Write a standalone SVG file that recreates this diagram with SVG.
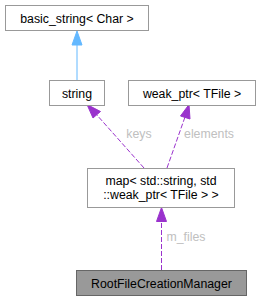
<svg xmlns="http://www.w3.org/2000/svg" width="261" height="301" viewBox="0 0 261 301">
<style>
.box{fill:#ffffff;stroke:#999999;stroke-width:1}
.main{fill:#999999;stroke:#666666;stroke-width:1}
.t{font-family:"Liberation Sans",Arial,sans-serif;font-size:12.3px;fill:#000000;text-anchor:middle}
.lbl{font-family:"Liberation Sans",Arial,sans-serif;font-size:12.3px;fill:#c0c0c0;text-anchor:middle}
.e{fill:none;stroke:#9a32cd;stroke-width:1;stroke-dasharray:5,2}
.eb{fill:none;stroke:#63b8ff;stroke-width:1}
.ah{fill:#9a32cd;stroke:#9a32cd}
.ahb{fill:#63b8ff;stroke:#63b8ff}
</style>
<rect width="261" height="301" fill="#ffffff"/>
<g id="edges">
  <path class="eb" d="M77,80 L77,44"/>
  <polygon class="ahb" points="77,31 82,45 72,45"/>
  <path class="e" d="M144,168 L96,114"/>
  <polygon class="ah" points="87,104.5 100.5,111.5 93,118"/>
  <text class="lbl" x="139" y="138">keys</text>
  <path class="e" d="M167,168 L185,117"/>
  <polygon class="ah" points="189,104.5 190,119 180.5,116"/>
  <text class="lbl" x="209" y="138">elements</text>
  <path class="e" d="M161.5,270 L161.5,221"/>
  <polygon class="ah" points="161.5,207.5 166.5,221.5 156.5,221.5"/>
  <text class="lbl" x="186" y="241">m_files</text>
</g>
<g id="node_basic_string">
  <rect class="box" x="5.5" y="5.5" width="143" height="25"/>
  <text class="t" x="77" y="22.5">basic_string&lt; Char &gt;</text>
</g>
<g id="node_string">
  <rect class="box" x="49.5" y="80.5" width="55" height="25"/>
  <text class="t" x="77" y="97.5">string</text>
</g>
<g id="node_weak_ptr">
  <rect class="box" x="128.5" y="80.5" width="127" height="25"/>
  <text class="t" x="192" y="97.5">weak_ptr&lt; TFile &gt;</text>
</g>
<g id="node_map">
  <rect class="box" x="87.5" y="168.5" width="147" height="39"/>
  <text class="t" x="161" y="184.5">map&lt; std::string, std</text>
  <text class="t" x="161" y="198.5">::weak_ptr&lt; TFile &gt; &gt;</text>
</g>
<g id="node_root">
  <rect class="main" x="76.5" y="270.5" width="170" height="25"/>
  <text class="t" x="161.5" y="287.5">RootFileCreationManager</text>
</g>
</svg>
